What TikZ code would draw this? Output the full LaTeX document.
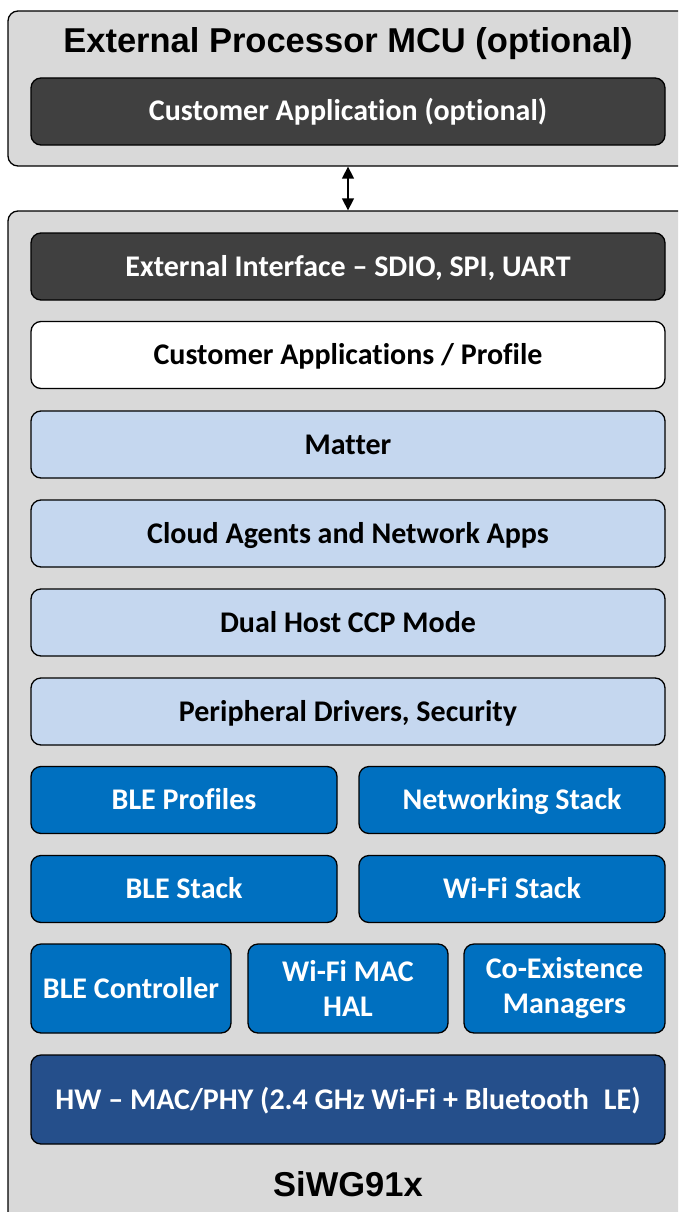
\documentclass[tikz,border=0pt]{standalone}
\usepackage{fontspec}
\setmainfont{Carlito}[Ligatures={NoCommon}]
\newfontfamily\arialfont{Liberation Sans}
\usetikzlibrary{arrows.meta}
\definecolor{outergray}{HTML}{D9D9D9}
\definecolor{darkbox}{HTML}{404040}
\definecolor{lightblue}{HTML}{C5D7EF}
\definecolor{midblue}{HTML}{0070C0}
\definecolor{deepblue}{HTML}{254F8B}
\tikzset{
  outerbox/.style={draw=black, line width=1.3pt, fill=outergray, rounded corners=10pt, inner sep=0pt},
  layer/.style={draw=black, line width=1.3pt, rounded corners=10pt, inner sep=2pt, align=center,
    font=\fontsize{30}{35}\selectfont\bfseries, text height=24pt, text depth=5pt},
  twolines/.style={text height=, text depth=},
  darklayer/.style={layer, fill=darkbox, text=white},
  whitelayer/.style={layer, fill=white, text=black},
  lightlayer/.style={layer, fill=lightblue, text=black},
  bluelayer/.style={layer, fill=midblue, text=white},
  hwlayer/.style={layer, fill=deepblue, text=white},
  titletext/.style={font=\arialfont\fontsize{34.5}{38}\selectfont\bfseries, text=black, inner sep=0pt, anchor=base},
  link/.style={line width=1.5pt, {Triangle[width=12pt,length=12pt]}-{Triangle[width=12pt,length=12pt]}}
}
\begin{document}
\begin{tikzpicture}[x=1pt,y=-1pt]
\useasboundingbox (0,0) rectangle (678,1212);
\clip (0,0) rectangle (678,1212);
\fill[white] (0,0) rectangle (678,1212);
% outer containers
\node[outerbox, minimum width=682pt, minimum height=155pt] (outer1) at (349,88.5) {};
\node[outerbox, minimum width=682pt, minimum height=1014pt] (outer2) at (349,718) {};
% titles
\node[titletext] (mcutitle) at (348,53) {External Processor MCU (optional)};
\node[titletext] (chiptitle) at (348,1196) {SiWG91x};
% full-width layers
\node[darklayer, minimum width=634pt, minimum height=67pt] (custapp) at (348,111.5) {Customer Application (optional)};
\node[darklayer, minimum width=634pt, minimum height=67pt] (extif) at (348,266.5) {External Interface -- SDIO, SPI, UART};
\node[whitelayer, minimum width=634pt, minimum height=67pt] (profile) at (348,355) {Customer Applications / Profile};
\node[lightlayer, minimum width=634pt, minimum height=67pt] (matter) at (348,444.5) {Matter};
\node[lightlayer, minimum width=634pt, minimum height=67pt] (cloud) at (348,533.5) {Cloud Agents and Network Apps};
\node[lightlayer, minimum width=634pt, minimum height=67pt] (dual) at (348,622.5) {Dual Host CCP Mode};
\node[lightlayer, minimum width=634pt, minimum height=67pt] (periph) at (348,711.5) {Peripheral Drivers, Security};
% two-column layers
\node[bluelayer, minimum width=306pt, minimum height=67pt] (bleprof) at (184,800) {BLE Profiles};
\node[bluelayer, minimum width=306pt, minimum height=67pt] (netstack) at (512,800) {Networking Stack};
\node[bluelayer, minimum width=306pt, minimum height=67pt] (blestack) at (184,889) {BLE Stack};
\node[bluelayer, minimum width=306pt, minimum height=67pt] (wifistack) at (512,889) {Wi-Fi Stack};
% three-column layers
\node[bluelayer, minimum width=200pt, minimum height=89pt] (blectrl) at (131,988.5) {BLE Controller};
\node[bluelayer, twolines, minimum width=200pt, minimum height=89pt] (wifimac) at (348,988.5) {Wi-Fi MAC\\HAL};
\node[bluelayer, twolines, minimum width=201pt, minimum height=89pt] (coex) at (564.5,988.5) {Co-Existence\\Managers};
% hardware
\node[hwlayer, minimum width=634pt, minimum height=89pt] (hw) at (348,1099.5) {HW -- MAC/PHY (2.4 GHz Wi-Fi + Bluetooth\enspace LE)};
% connector
\coordinate (ax) at (348,0);
\draw[link] (outer1.south -| ax) -- (outer2.north -| ax);
\end{tikzpicture}
\end{document}
